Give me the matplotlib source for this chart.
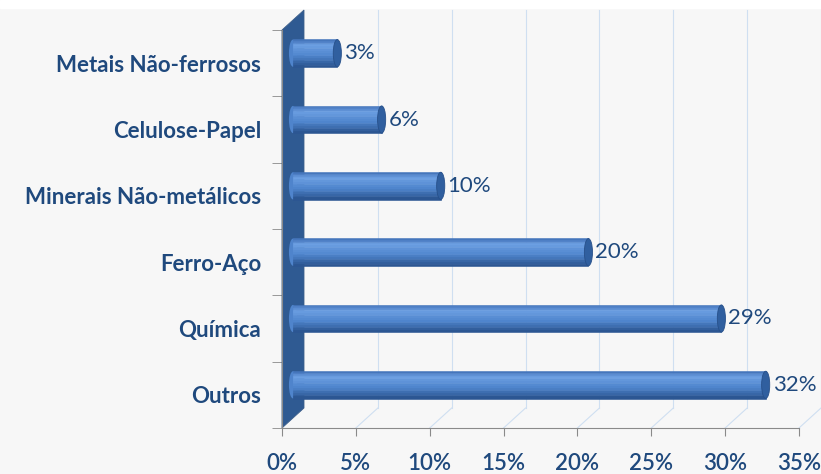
import numpy as np
import matplotlib
matplotlib.use('Agg')
import matplotlib.pyplot as plt
from matplotlib.patches import Ellipse, Polygon, Rectangle
from matplotlib.transforms import ScaledTranslation
from matplotlib.colors import to_rgb


#################
### DATA ###
#################

sectors = ['Outros', 'Química', 'Ferro-Aço', 'Minerais Não-metálicos',
           'Celulose-Papel', 'Metais Não-ferrosos']
shares = [32, 29, 20, 10, 6, 3]          # percent
x_ticks = [0, 5, 10, 15, 20, 25, 30, 35]
x_tick_labels = [f'{t}%' for t in x_ticks]

TEXT = '#1f497d'
WALL = '#2f5a92'
GRID = '#cfdff1'
AXIS = '#8a8a8a'
FONT = 'Lato'

W, H, DPI = 821, 474, 100
DEPTH_X, DEPTH_Y = 22, 20     # 3d depth of the plot box, in pixels


#################
### FIGURE ###
#################

fig = plt.figure(figsize=(W / DPI, H / DPI), dpi=DPI, facecolor='#f7f7f7')
ax = fig.add_axes([282 / W, 46 / H, 517 / W, 398 / H])
ax.set_facecolor('none')
ax.set_xlim(0, 35)
ax.set_ylim(-0.5, len(sectors) - 0.5)

# white border along the top of the picture
fig.add_artist(Rectangle((0, 1 - 8 / H), 1, 8 / H, transform=fig.transFigure,
                         color='white', zorder=-5))

# transforms that push things towards the back of the box
back = ax.transData + ScaledTranslation(DEPTH_X / DPI, DEPTH_Y / DPI, fig.dpi_scale_trans)
mid = ax.transData + ScaledTranslation(DEPTH_X / 2 / DPI, DEPTH_Y / 2 / DPI, fig.dpi_scale_trans)

y0, y1 = ax.get_ylim()

# back wall gridlines + floor diagonals
for t in x_ticks[1:]:
    ax.plot([t, t], [y0, y1], color=GRID, lw=0.8, transform=back, zorder=1, clip_on=False)
    p_front = ax.transData.transform((t, y0))
    p_back = back.transform((t, y0))
    ax.plot([p_front[0], p_back[0]], [p_front[1], p_back[1]], color=GRID, lw=0.8,
            transform=None, zorder=1, clip_on=False)

# left side wall (dark blue parallelogram)
corners = [ax.transData.transform((0, y0)), back.transform((0, y0)),
           back.transform((0, y1)), ax.transData.transform((0, y1))]
ax.add_patch(Polygon(corners, closed=True, transform=None, facecolor=WALL,
                     edgecolor='#3d5f8a', lw=0.6, zorder=2, clip_on=False))


#################
### BARS ###
#################

bar_h = 0.41
n_strips = 16
stops_t = [0.0, 0.22, 0.6, 1.0]                      # top -> bottom of the cylinder
stops_c = [to_rgb(c) for c in ['#3e6fb6', '#6c9fe2', '#4f85cd', '#29528d']]

ypos = np.arange(len(sectors))
for k in range(n_strips):
    t = (k + 0.5) / n_strips
    col = [np.interp(t, stops_t, [c[i] for c in stops_c]) for i in range(3)]
    centre = ypos + bar_h / 2 - (k + 0.5) * bar_h / n_strips
    ax.barh(centre, shares, height=bar_h / n_strips * 1.4, left=0, color=col,
            edgecolor=col, lw=0.4, transform=mid, zorder=3, clip_on=False)

cap_w = 0.55
for y, v in zip(ypos, shares):
    # rounded start and darker end cap
    ax.add_patch(Ellipse((0, y), cap_w, bar_h, transform=mid, facecolor='#4f84cc',
                         lw=0, zorder=2.9, clip_on=False))
    ax.add_patch(Ellipse((v, y), cap_w, bar_h, transform=mid, facecolor='#305f9f',
                         edgecolor='#27508a', lw=0.6, zorder=4, clip_on=False))
    ax.annotate(f'{v}%', (v, y), xycoords=mid, xytext=(5, 0), textcoords='offset points',
                ha='left', va='center', color=TEXT, fontsize=16, family=FONT, zorder=5)


#################
### AXES ###
#################

for side in ['top', 'right']:
    ax.spines[side].set_visible(False)
ax.spines['left'].set_color(AXIS)
ax.spines['bottom'].set_color(AXIS)
ax.spines['left'].set_zorder(2.5)

ax.set_xticks(x_ticks)
ax.set_xticklabels(x_tick_labels, color=TEXT, fontsize=16, family=FONT, fontweight='semibold')
ax.tick_params(axis='x', length=6, color=AXIS, pad=12)

ax.set_yticks(ypos)
ax.set_yticklabels(sectors, color=TEXT, fontsize=16, family=FONT, fontweight='bold')
ax.set_yticks(np.arange(y0, y1 + 0.01, 1.0), minor=True)
ax.tick_params(axis='y', which='major', length=0, pad=15)
ax.tick_params(axis='y', which='minor', length=7, color=AXIS)

plt.savefig('out.png', dpi=DPI, facecolor=fig.get_facecolor())
